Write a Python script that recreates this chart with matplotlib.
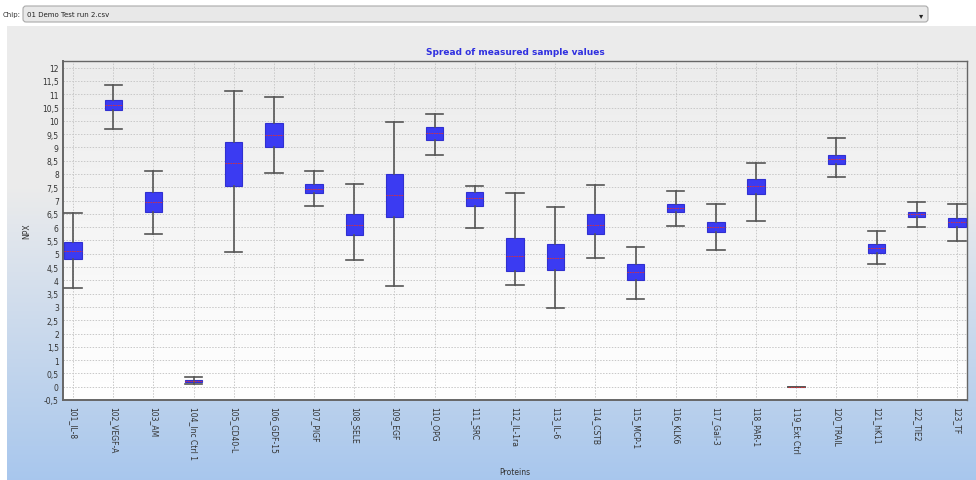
import matplotlib
matplotlib.use("Agg")
import matplotlib.pyplot as plt
import numpy as np
from matplotlib.patches import FancyBboxPatch, Rectangle
from matplotlib.ticker import MultipleLocator, FuncFormatter

proteins = ["101_IL-8", "102_VEGF-A", "103_AM", "104_Inc Ctrl 1", "105_CD40-L",
            "106_GDF-15", "107_PIGF", "108_SELE", "109_EGF", "110_OPG", "111_SRC",
            "112_IL-1ra", "113_IL-6", "114_CSTB", "115_MCP-1", "116_KLK6",
            "117_Gal-3", "118_PAR-1", "119_Ext Ctrl", "120_TRAIL", "121_hK11",
            "122_TIE2", "123_TF"]
whisker_low = [3.70, 9.68, 5.73, 0.10, 5.08, 8.03, 6.80, 4.78, 3.80, 8.71, 5.96,
               3.84, 2.95, 4.83, 3.30, 6.04, 5.13, 6.25, 0.00, 7.90, 4.63, 6.01, 5.49]
q1 = [4.80, 10.40, 6.58, 0.19, 7.55, 9.00, 7.28, 5.69, 6.40, 9.28, 6.80,
      4.35, 4.40, 5.75, 4.03, 6.56, 5.80, 7.23, 0.00, 8.38, 5.04, 6.38, 5.99]
median = [5.09, 10.60, 6.96, 0.22, 8.40, 9.46, 7.43, 6.09, 7.20, 9.53, 7.09,
          4.90, 4.84, 6.09, 4.31, 6.71, 5.99, 7.53, 0.00, 8.55, 5.21, 6.48, 6.18]
q3 = [5.46, 10.80, 7.34, 0.25, 9.22, 9.93, 7.61, 6.50, 8.00, 9.78, 7.34,
      5.58, 5.36, 6.50, 4.63, 6.88, 6.18, 7.83, 0.00, 8.71, 5.38, 6.58, 6.36]
whisker_high = [6.53, 11.34, 8.13, 0.36, 11.11, 10.90, 8.13, 7.64, 9.94, 10.25, 7.55,
                7.29, 6.75, 7.60, 5.24, 7.36, 6.88, 8.41, 0.00, 9.34, 5.85, 6.94, 6.88]

W, H = 976, 481
fig = plt.figure(figsize=(W / 100, H / 100), dpi=100)
fig.patch.set_facecolor("white")

# Background panel with grey-to-blue vertical gradient
bg = fig.add_axes([0, 0, 1, 1], zorder=-10)
bg.set_xlim(0, W)
bg.set_ylim(H, 0)
bg.axis("off")
grad = np.linspace(0, 1, 256)[:, None]
top_c = np.array([0.925, 0.925, 0.925])
bot_c = np.array([0.66, 0.78, 0.93])
w = np.clip((grad - 0.35) / 0.65, 0, 1)
img = top_c * (1 - w[..., None]) + bot_c * w[..., None]
img = np.repeat(img, 2, axis=1)
bg.imshow(img, extent=[7, W, 481, 27], aspect="auto", zorder=0)

# Chip selector bar
bg.text(3, 15, "Chip:", fontsize=5, va="center", ha="left", color="#333333")
bg.add_patch(FancyBboxPatch((23, 7), 905, 16, boxstyle="round,pad=0,rounding_size=3",
                            facecolor="#e8e8e8", edgecolor="#aaaaaa", linewidth=0.8))
bg.text(27, 15, "01 Demo Test run 2.csv", fontsize=5, va="center", ha="left", color="#222222")
bg.text(921, 15.5, "\u25BE", fontsize=6, va="center", ha="center", color="#222222")

# Box plot
ax = fig.add_axes([63 / W, 1 - 401 / H, (967 - 63) / W, (401 - 62) / H])
grad2 = np.linspace(0, 1, 256)[:, None]
ax.imshow(np.repeat(grad2, 2, axis=1), cmap=matplotlib.colors.LinearSegmentedColormap.from_list(
    "pa", ["#ececec", "#ffffff"]), extent=[-0.25, 22.25, -0.5, 12.25], aspect="auto", zorder=0)

stats = []
for i, name in enumerate(proteins):
    stats.append(dict(label=name, whislo=whisker_low[i], q1=q1[i], med=median[i],
                      q3=q3[i], whishi=whisker_high[i], fliers=[]))
pos = np.arange(len(proteins))
ax.bxp(stats, positions=pos, widths=0.43, patch_artist=True, showfliers=False,
       boxprops=dict(facecolor="#3b3bf2", edgecolor="#3030d0", linewidth=0.8),
       medianprops=dict(color="#e03030", linewidth=0.6, linestyle=(0, (2, 1))),
       whiskerprops=dict(color="#555555", linewidth=1.2),
       capprops=dict(color="#555555", linewidth=1.2),
       capwidths=0.43, zorder=3)

ax.set_xlim(-0.25, 22.25)
ax.set_ylim(-0.5, 12.25)
ax.yaxis.set_major_locator(MultipleLocator(0.5))
ax.yaxis.set_major_formatter(FuncFormatter(lambda v, p: ("%g" % v).replace(".", ",")))
ax.set_xticks(pos)
ax.set_xticklabels(proteins, rotation=-90, fontsize=5.5, color="#333333")
ax.tick_params(axis="y", labelsize=5.5, colors="#333333", length=0, pad=3)
ax.tick_params(axis="x", length=0, pad=4)
ax.grid(True, color="#c8c8c8", linestyle=(0, (1.5, 1.5)), linewidth=0.7)
ax.set_axisbelow(True)
for s in ax.spines.values():
    s.set_color("#666666")
    s.set_linewidth(1.0)
ax.spines["left"].set_linewidth(1.4)
ax.spines["bottom"].set_linewidth(1.4)

ax.set_ylabel("NPX", fontsize=5.5, color="#333333", labelpad=8)
ax.set_xlabel("Proteins", fontsize=5.5, color="#333333", labelpad=6)
ax.set_title("Spread of measured sample values", fontsize=6.5, fontweight="bold",
             color="#3030e0", pad=5)

fig.savefig("out.png", dpi=100)
